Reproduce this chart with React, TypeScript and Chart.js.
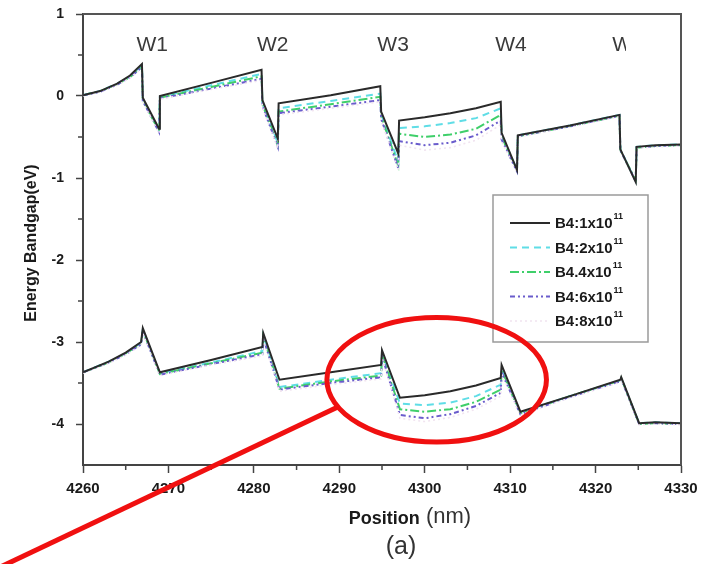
import React, { useEffect, useRef } from 'react';
import { Chart, registerables } from 'chart.js';

Chart.register(...registerables);

// ---------- data ----------
const seriesLabels = ['B4:1x10', 'B4:2x10', 'B4.4x10', 'B4:6x10', 'B4:8x10'];
const seriesExponent = '11';

const xTickValues = [4260, 4270, 4280, 4290, 4300, 4310, 4320, 4330];
const yTickValues = [-4, -3, -2, -1, 0, 1];

// conduction band (upper curves)
const positionsUpper = [
  4260, 4262, 4264, 4265.5, 4266.9, 4267.0, 4268.9, 4269.0, 4275, 4280.9, 4281.0,
  4282.8, 4282.9, 4289, 4294.8, 4294.9, 4296.9, 4297.0, 4300, 4303, 4306, 4308.9,
  4309.0, 4310.8, 4310.9, 4317, 4322.8, 4322.9, 4324.7, 4324.8, 4327, 4330,
];
const upperB1 = [
  0.01, 0.06, 0.15, 0.25, 0.39, -0.02, -0.40, 0.0, 0.16, 0.32, -0.05,
  -0.52, -0.09, 0.01, 0.12, -0.19, -0.70, -0.30, -0.26, -0.21, -0.15, -0.07,
  -0.45, -0.90, -0.48, -0.36, -0.23, -0.65, -1.05, -0.62, -0.60, -0.59,
];
const upperB2 = [
  0.01, 0.06, 0.15, 0.24, 0.37, -0.04, -0.42, -0.01, 0.13, 0.27, -0.08,
  -0.57, -0.15, -0.06, 0.03, -0.22, -0.80, -0.39, -0.37, -0.33, -0.27, -0.15,
  -0.47, -0.90, -0.48, -0.36, -0.23, -0.65, -1.04, -0.62, -0.60, -0.59,
];
const upperB4 = [
  0.01, 0.06, 0.14, 0.23, 0.36, -0.05, -0.43, -0.02, 0.11, 0.24, -0.10,
  -0.60, -0.19, -0.10, -0.01, -0.25, -0.85, -0.46, -0.50, -0.47, -0.40, -0.23,
  -0.50, -0.91, -0.49, -0.37, -0.24, -0.66, -1.03, -0.63, -0.61, -0.60,
];
const upperB6 = [
  0.01, 0.05, 0.14, 0.23, 0.35, -0.06, -0.44, -0.03, 0.09, 0.21, -0.12,
  -0.62, -0.21, -0.13, -0.05, -0.28, -0.88, -0.55, -0.60, -0.57, -0.48, -0.30,
  -0.53, -0.92, -0.49, -0.37, -0.24, -0.66, -1.04, -0.63, -0.61, -0.60,
];
const upperB8 = [
  0.0, 0.05, 0.13, 0.22, 0.34, -0.07, -0.45, -0.04, 0.08, 0.19, -0.14,
  -0.64, -0.23, -0.15, -0.07, -0.30, -0.90, -0.60, -0.66, -0.63, -0.54, -0.35,
  -0.55, -0.93, -0.50, -0.38, -0.25, -0.67, -1.05, -0.64, -0.62, -0.61,
];

// valence band (lower curves)
const positionsLower = [
  4260, 4263, 4265, 4266.8, 4267.0, 4269.0, 4275, 4281.0, 4281.1, 4283.0, 4289,
  4294.9, 4295.0, 4297.1, 4300, 4303, 4306, 4308.9, 4309.0, 4311.2, 4317, 4322.9,
  4323.0, 4325.1, 4327, 4330,
];
const lowerB1 = [
  -3.37, -3.24, -3.13, -3.0, -2.83, -3.37, -3.22, -3.06, -2.89, -3.46, -3.37,
  -3.28, -3.10, -3.68, -3.65, -3.60, -3.53, -3.44, -3.28, -3.85, -3.66, -3.46,
  -3.43, -3.99, -3.98, -3.99,
];
const lowerB2 = [
  -3.37, -3.24, -3.14, -3.01, -2.85, -3.38, -3.25, -3.11, -2.92, -3.55, -3.46,
  -3.38, -3.13, -3.75, -3.77, -3.74, -3.66, -3.52, -3.32, -3.86, -3.66, -3.47,
  -3.44, -3.99, -3.98, -3.99,
];
const lowerB4 = [
  -3.37, -3.25, -3.14, -3.02, -2.86, -3.39, -3.26, -3.13, -2.93, -3.57, -3.48,
  -3.41, -3.15, -3.82, -3.85, -3.82, -3.73, -3.58, -3.35, -3.87, -3.66, -3.47,
  -3.44, -4.0, -3.99, -4.0,
];
const lowerB6 = [
  -3.37, -3.25, -3.15, -3.03, -2.87, -3.40, -3.27, -3.15, -2.95, -3.58, -3.50,
  -3.43, -3.17, -3.89, -3.93, -3.88, -3.78, -3.62, -3.37, -3.88, -3.67, -3.48,
  -3.45, -4.0, -3.99, -4.0,
];
const lowerB8 = [
  -3.38, -3.26, -3.16, -3.04, -2.88, -3.41, -3.28, -3.17, -2.97, -3.60, -3.52,
  -3.45, -3.19, -3.93, -3.97, -3.92, -3.82, -3.66, -3.39, -3.89, -3.68, -3.49,
  -3.46, -4.01, -4.0, -4.01,
];

const upperSeries = [upperB1, upperB2, upperB4, upperB6, upperB8];
const lowerSeries = [lowerB1, lowerB2, lowerB4, lowerB6, lowerB8];

const wellLabels = ['W1', 'W2', 'W3', 'W4', 'W'];
const wellLabelX = [4268.1, 4282.2, 4296.3, 4310.1, 4323.1];
const wellLabelY = 0.62;

// highlight annotation (data coordinates)
const highlightCenter = { x: 4301.4, y: -3.46 };
const highlightRadius = { x: 12.85, y: 0.76 };
const pointerFrom = { x: 4289.7, y: -3.8 };
const pointerTo = { x: 4250.2, y: -5.75 };

// ---------- styles ----------
const seriesColors = ['#2a2a2a', '#5fdde6', '#3fcf6a', '#6a5ccc', '#f1e4f0'];
const seriesDashes = [[], [7, 5], [9, 3, 2, 3], [5, 3, 2, 3, 2, 3], [2, 3]];
const seriesWidths = [2, 2, 2, 2, 1.6];

const FONT = '"Liberation Sans", Arial, Helvetica, sans-serif';

const decorPlugin = {
  id: 'decor',
  afterDraw(chart: any) {
    const { ctx, chartArea: a } = chart;
    const xs = chart.scales.x;
    const ys = chart.scales.y;
    ctx.save();

    // frame top & right
    ctx.strokeStyle = '#555';
    ctx.lineWidth = 2;
    ctx.beginPath();
    ctx.moveTo(a.left, a.top);
    ctx.lineTo(a.right, a.top);
    ctx.lineTo(a.right, a.bottom);
    ctx.stroke();

    // minor ticks
    ctx.strokeStyle = '#444';
    ctx.lineWidth = 1.5;
    ctx.beginPath();
    for (let v = 4265; v < 4330; v += 10) {
      const px = xs.getPixelForValue(v);
      ctx.moveTo(px, a.bottom);
      ctx.lineTo(px, a.bottom + 5);
    }
    for (let v = -3.5; v < 1; v += 1) {
      const py = ys.getPixelForValue(v);
      ctx.moveTo(a.left - 5, py);
      ctx.lineTo(a.left, py);
    }
    ctx.stroke();

    // well labels
    ctx.fillStyle = '#3a3a3a';
    ctx.font = `21px ${FONT}`;
    ctx.textBaseline = 'middle';
    ctx.textAlign = 'center';
    wellLabels.forEach((t, i) => {
      const px = xs.getPixelForValue(wellLabelX[i]);
      const py = ys.getPixelForValue(wellLabelY);
      if (i === wellLabels.length - 1) {
        const w = ctx.measureText(t).width;
        ctx.save();
        ctx.beginPath();
        ctx.rect(px - w / 2 - 2, py - 15, w * 0.8, 30);
        ctx.clip();
        ctx.fillText(t, px, py);
        ctx.restore();
      } else {
        ctx.fillText(t, px, py);
      }
    });

    // legend box
    const lx = a.right - 188;
    const ly = a.top + 181;
    const lw = 155;
    const lh = 147;
    ctx.fillStyle = '#ffffff';
    ctx.fillRect(lx, ly, lw, lh);
    ctx.strokeStyle = '#9a9a9a';
    ctx.lineWidth = 1.5;
    ctx.strokeRect(lx, ly, lw, lh);
    seriesLabels.forEach((lab, i) => {
      const ry = ly + 28 + i * 24.5;
      ctx.save();
      ctx.strokeStyle = seriesColors[i];
      ctx.lineWidth = seriesWidths[i];
      ctx.setLineDash(seriesDashes[i]);
      ctx.beginPath();
      ctx.moveTo(lx + 17, ry);
      ctx.lineTo(lx + 57, ry);
      ctx.stroke();
      ctx.restore();
      ctx.fillStyle = '#1a1a1a';
      ctx.textAlign = 'left';
      ctx.textBaseline = 'middle';
      ctx.font = `bold 15px ${FONT}`;
      ctx.fillText(lab, lx + 62, ry + 1);
      const w = ctx.measureText(lab).width;
      ctx.font = `bold 9px ${FONT}`;
      ctx.fillText(seriesExponent, lx + 63 + w, ry - 6);
    });

    // y title
    ctx.save();
    ctx.translate(32, 243);
    ctx.rotate(-Math.PI / 2);
    ctx.fillStyle = '#1a1a1a';
    ctx.font = `bold 16px ${FONT}`;
    ctx.textAlign = 'center';
    ctx.textBaseline = 'middle';
    ctx.fillText('Energy Bandgap(eV)', 0, 0);
    ctx.restore();

    // x title
    const part1 = 'Position';
    const part2 = ' (nm)';
    ctx.font = `bold 18px ${FONT}`;
    const w1 = ctx.measureText(part1).width;
    ctx.font = `22px ${FONT}`;
    const w2 = ctx.measureText(part2).width;
    const startX = 410 - (w1 + w2) / 2;
    ctx.textAlign = 'left';
    ctx.textBaseline = 'middle';
    ctx.fillStyle = '#1a1a1a';
    ctx.font = `bold 18px ${FONT}`;
    ctx.fillText(part1, startX, 519);
    ctx.fillStyle = '#333';
    ctx.font = `22px ${FONT}`;
    ctx.fillText(part2, startX + w1, 517);
    ctx.font = `25px ${FONT}`;
    ctx.textAlign = 'center';
    ctx.fillText('(a)', 401, 547);

    // red highlight ellipse and pointer
    const cx = xs.getPixelForValue(highlightCenter.x);
    const cy = ys.getPixelForValue(highlightCenter.y);
    const rx = xs.getPixelForValue(highlightCenter.x + highlightRadius.x) - cx;
    const ry = cy - ys.getPixelForValue(highlightCenter.y + highlightRadius.y);
    ctx.strokeStyle = '#f01010';
    ctx.lineWidth = 5;
    ctx.beginPath();
    ctx.ellipse(cx, cy, rx, ry, 0, 0, Math.PI * 2);
    ctx.stroke();
    ctx.beginPath();
    ctx.moveTo(xs.getPixelForValue(pointerFrom.x), ys.getPixelForValue(pointerFrom.y));
    ctx.lineTo(xs.getPixelForValue(pointerTo.x), ys.getPixelForValue(pointerTo.y));
    ctx.stroke();

    ctx.restore();
  },
};

function makeDataset(i: number, xs: number[], ys: number[], band: string) {
  return {
    label: seriesLabels[i] + '^' + seriesExponent + ' ' + band,
    data: xs.map((x, j) => ({ x, y: ys[j] })),
    borderColor: seriesColors[i],
    backgroundColor: seriesColors[i],
    borderDash: seriesDashes[i],
    borderWidth: seriesWidths[i],
    pointRadius: 0,
    tension: 0,
    fill: false,
    order: i === 0 ? 0 : 6 - i,
  };
}

export default function App() {
  const ref = useRef<HTMLCanvasElement | null>(null);

  useEffect(() => {
    document.body.style.margin = '0';
    const canvas = ref.current;
    if (!canvas) return;
    const datasets: any[] = [];
    for (let i = 0; i < seriesLabels.length; i++) {
      datasets.push(makeDataset(i, positionsUpper, upperSeries[i], 'CB'));
      datasets.push(makeDataset(i, positionsLower, lowerSeries[i], 'VB'));
    }
    const chart = new Chart(canvas, {
      type: 'line',
      data: { datasets },
      options: {
        animation: false,
        responsive: false,
        devicePixelRatio: 1,
        events: [],
        layout: { padding: { top: 14, right: 30, left: 0, bottom: 0 } },
        plugins: {
          legend: { display: false },
          tooltip: { enabled: false },
          title: { display: false },
        },
        scales: {
          x: {
            type: 'linear',
            min: 4260,
            max: 4330,
            afterFit: (s: any) => {
              s.height = 99;
              s.paddingLeft = 0;
              s.paddingRight = 0;
            },
            afterBuildTicks: (s: any) => {
              s.ticks = xTickValues.map((v) => ({ value: v }));
            },
            grid: {
              drawOnChartArea: false,
              drawTicks: true,
              tickLength: 8,
              tickColor: '#444',
              tickWidth: 1.5,
            },
            border: { display: true, color: '#444', width: 2 },
            ticks: {
              padding: 7,
              color: '#1a1a1a',
              font: { family: FONT, size: 15, weight: 'bold' },
              maxRotation: 0,
              autoSkip: false,
              callback: (v: any) => String(v),
            },
          },
          y: {
            type: 'linear',
            min: -4.5,
            max: 1,
            afterFit: (s: any) => {
              s.width = 83;
              s.paddingTop = 0;
              s.paddingBottom = 0;
            },
            afterBuildTicks: (s: any) => {
              s.ticks = yTickValues.map((v) => ({ value: v }));
            },
            grid: {
              drawOnChartArea: false,
              drawTicks: true,
              tickLength: 7,
              tickColor: '#444',
              tickWidth: 1.5,
            },
            border: { display: true, color: '#444', width: 2 },
            ticks: {
              padding: 12,
              color: '#1a1a1a',
              font: { family: FONT, size: 14, weight: 'bold' },
              autoSkip: false,
              callback: (v: any) => String(v),
            },
          },
        },
      },
      plugins: [decorPlugin],
    } as any);
    return () => chart.destroy();
  }, []);

  return (
    <div style={{ position: 'fixed', left: 0, top: 0, width: 711, height: 564, background: '#fff' }}>
      <canvas ref={ref} width={711} height={564} style={{ width: 711, height: 564 }} />
    </div>
  );
}
